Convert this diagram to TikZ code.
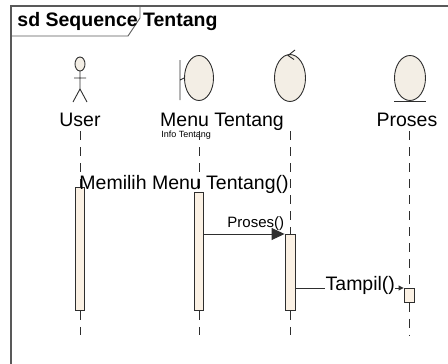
\documentclass[tikz,border=0pt]{standalone}
\usepackage{fontspec}
\setmainfont{Liberation Sans}
\usetikzlibrary{arrows.meta,shapes.geometric}
\definecolor{barfill}{HTML}{FBF1E4}
\definecolor{objfill}{HTML}{F3EEE5}
\definecolor{linegray}{HTML}{2E2E2E}
\begin{document}
\begin{tikzpicture}[x=1pt,y=-1pt,line width=0.9pt,
		obj/.style={draw=linegray,fill=objfill,ellipse,inner sep=0,minimum width=31pt,minimum height=45pt},
		bar/.style={draw=linegray,fill=barfill,inner sep=0,anchor=north,minimum width=9pt},
		life/.style={draw=linegray,dash pattern=on 9pt off 7pt},
		big/.style={inner sep=0,font=\fontsize{19.5}{19.5}\selectfont},
		msg/.style={draw=linegray,-{Triangle[length=13pt,width=12pt]}}]
	\useasboundingbox (0,0) rectangle (448,364);
	% frame
	\draw[gray!70!black,line width=1.4pt] (11,364) -- (11,6) -- (448,6);
	\draw[gray!70!black] (11,36) -- (128,36) -- (140,18) -- (140,6);
	\node[anchor=base west,inner sep=0,font=\fontsize{19.5}{19.5}\selectfont\bfseries] (title) at (17,27) {sd Sequence Tentang};
	% objects
	\draw[linegray,fill=objfill] (80,64) ellipse (5 and 7);
	\draw[linegray] (80,71) -- (80,89) (74,78) -- (86,78) (73,102) -- (80,89) -- (87,102);
	\node[obj,minimum width=29pt] (menu) at (199,78) {};
	\draw[linegray] (180,60) -- (180,100) (180,80) -- (menu.west);
	\node[obj,minimum height=47pt] (ctrl) at (290,78) {};
	\draw[linegray] (295,50) -- (288,55.5) -- (294,59.5);
	\node[obj] (proses) at (410,78) {};
	\draw[linegray] (394,101) -- (426,101);
	\node[big,anchor=base] (luser) at (80,126) {User};
	\node[big,anchor=base] (lmenu) at (222,126) {Menu Tentang};
	\node[inner sep=0,anchor=base west,font=\fontsize{9}{9}\selectfont] (linfo) at (161,137.5) {Info Tentang};
	\node[big,anchor=base] (lproses) at (407,126) {Proses};
	% activations
	\node[bar,minimum height=123pt] (buser) at (80,187) {};
	\node[bar,minimum height=118pt] (bmenu) at (199,192) {};
	\node[bar,minimum width=10pt,minimum height=76pt] (bctrl) at (290,234) {};
	\node[bar,minimum width=10pt,minimum height=14pt] (bproses) at (409,288) {};
	% lifelines
	\draw[life] (80,131) -- (buser.north) (buser.south) -- (80,335);
	\draw[life] (199,131) -- (bmenu.north) (bmenu.south) -- (199,335);
	\draw[life] (290,131) -- (bctrl.north) (bctrl.south) -- (290,335);
	\draw[life] (409,131) -- (bproses.north) (bproses.south) -- (409,335);
	% messages
	\node[big,anchor=base west] (mmenu) at (79,189) {Memilih Menu Tentang()};
	\draw[msg] (bmenu.east |- bctrl.north) -- (bctrl.north west) node[pos=1,anchor=base east,inner sep=0,yshift=7pt,font=\fontsize{15}{15}\selectfont] (mproses) {Proses()};
	\draw[draw=linegray,-{Triangle[length=5pt,width=5pt]}] (bctrl.east |- bproses.north) -- (bproses.north west) node[pos=0.6,big,fill=white,inner sep=0.5pt,yshift=3pt] (mtampil) {Tampil()};
\end{tikzpicture}
\end{document}
